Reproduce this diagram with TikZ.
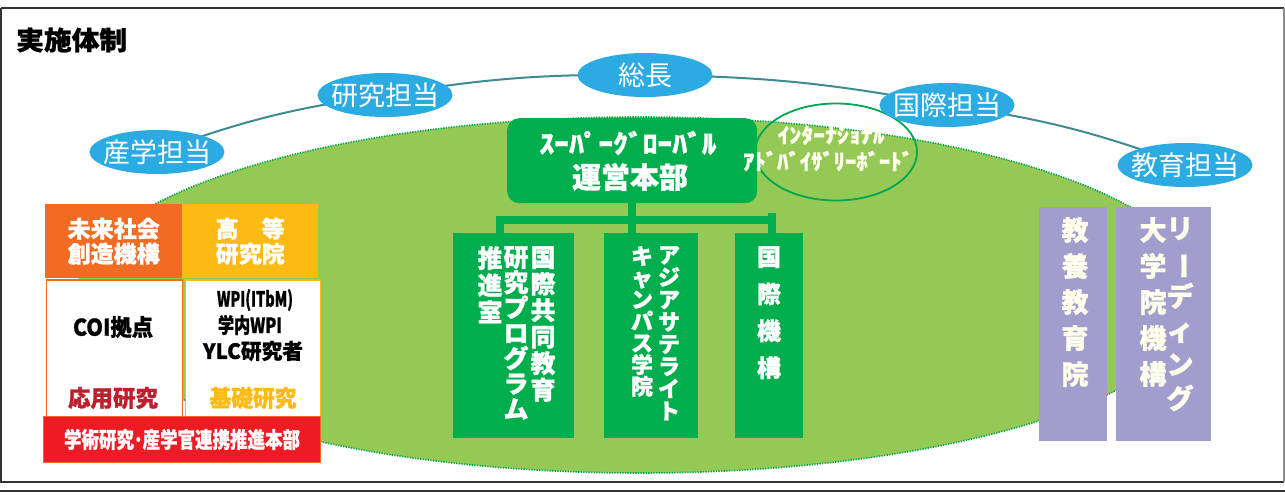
\documentclass[tikz,border=0pt]{standalone}
\usepackage{fontspec}
\setmainfont{Noto Sans CJK JP}[BoldFeatures={FakeBold=1}]
\usepackage{graphicx}
\usetikzlibrary{shapes.geometric}
\definecolor{cSky}{HTML}{2BABE2}
\definecolor{cArc}{HTML}{3D8B93}
\definecolor{cLight}{HTML}{95C955}
\definecolor{cGreen}{HTML}{00AE4D}
\definecolor{cDot}{HTML}{00A651}
\definecolor{cPurple}{HTML}{A19DCC}
\definecolor{cOrange}{HTML}{F26B23}
\definecolor{cYellow}{HTML}{FDBA12}
\definecolor{cRed}{HTML}{ED1C24}
\definecolor{cDarkRed}{HTML}{BE1E2D}
\definecolor{cCream}{HTML}{FFFDEB}
\newcommand\fsz[2]{\fontsize{#1}{#2}\selectfont}
\newcommand\fitw[2]{\resizebox{#1}{\height}{#2}}
\newcommand\vbar{\rotatebox[origin=c]{-90}{ー}}
\begin{document}
\begin{tikzpicture}[x=1pt,y=-1pt,
  blueell/.style={ellipse, fill=cSky, minimum width=135, minimum height=44, inner sep=0, text=white, font=\fsz{27}{30}},
  boxnw/.style={rectangle, inner sep=0, anchor=north west},
  txt/.style={inner sep=0, font=\bfseries},
  vcol/.style={inner sep=0, anchor=north, align=center, text=white, font=\bfseries},
  tree/.style={draw=cGreen, line width=8}
]
\useasboundingbox (0,0) rectangle (1285,495);
\fill[white] (0,0) rectangle (1285,495);
% frame
\draw[draw=black!80, line width=1.6] (1,8) -- (1284,8);
\draw[draw=black!80, line width=1.4] (1,8) -- (1,482) -- (1284,482);
\draw[draw=black!45, line width=1.4] (1284,8) -- (1284,482);
\draw[draw=black!80, line width=2] (0,491) -- (1285,491);
% title
\node[txt, anchor=west] (title) at (16,40) {\fitw{111pt}{\fsz{26}{28}実施体制}};
% big ellipse
\node[ellipse, fill=cLight, draw=cDot, line width=1.6, dash pattern=on 1.3 off 1.3, minimum width=1128, minimum height=356, inner sep=0] (bg) at (640,295) {};
% arc chain
\coordinate (sac) at (157,152);
\coordinate (kec) at (385,95);
\coordinate (soc) at (645,75);
\coordinate (koc) at (947,105);
\coordinate (kyc) at (1185,165);
\draw[cArc, line width=2] (sac) to[bend left=6] (kec) to[bend left=5] (soc) to[bend left=5] (koc) to[bend left=6] (kyc);
% international advisory board ellipse
\node[ellipse, draw=cDot, line width=1.8, minimum width=162, minimum height=97, inner sep=0] (iab) at (836,152) {};
% blue ellipses
\node[blueell] (sa) at (sac) {\makebox[0pt]{産学担当}};
\node[blueell] (ke) at (kec) {\makebox[0pt]{研究担当}};
\node[blueell] (so) at (soc) {\makebox[0pt]{総長}};
\node[blueell] (ko) at (koc) {\makebox[0pt]{国際担当}};
\node[blueell] (ky) at (kyc) {\makebox[0pt]{教育担当}};
% headquarters
\node[boxnw, fill=cGreen, rounded corners=12, minimum width=250, minimum height=85] (hq) at (507,118) {};
\node[txt, text=white] (hq1) at (628,143) {\fitw{177pt}{\fsz{26}{28}ｽｰﾊﾟｰｸﾞﾛｰﾊﾞﾙ}};
\node[txt, text=white] (hq2) at (630,177) {\fitw{116pt}{\fsz{29}{30}運営本部}};
% international advisory board text
\node[txt, text=cCream] (iab1) at (831,135) {\fitw{107pt}{\fsz{21}{22}ｲﾝﾀｰﾅｼｮﾅﾙ}};
\node[txt, text=cCream] (iab2) at (828,161) {\fitw{170pt}{\fsz{22}{24}ｱﾄﾞﾊﾞｲｻﾞﾘｰﾎﾞｰﾄﾞ}};
% three green boxes
\node[boxnw, fill=cGreen, minimum width=121, minimum height=205] (b1) at (453,233) {};
\node[boxnw, fill=cGreen, minimum width=94, minimum height=205] (b2) at (604,233) {};
\node[boxnw, fill=cGreen, minimum width=68, minimum height=205] (b3) at (735,233) {};
\coordinate (jl) at (500,220);
\coordinate (jr) at (772,213);
\draw[tree] (jl |- b1.north) -- (jl) -- (jl -| jr);
\draw[tree] (jr) -- (jr |- b3.north);
\draw[tree] (hq.south) -- (hq.south |- b2.north);
% box 1 text
\node[vcol, font=\bfseries\fsz{25}{26.5}] (b1c1) at (543,246) {国\\際\\共\\同\\教\\育};
\node[vcol, font=\bfseries\fsz{25}{25.3}] (b1c2) at (516,246) {研\\究\\プ\\ロ\\グ\\ラ\\ム};
\node[vcol, font=\bfseries\fsz{25}{27}] (b1c3) at (490,246) {推\\進\\室};
% box 2 text
\node[vcol, font=\bfseries\fsz{22}{22.3}] (b2c1) at (669,246) {ア\\ジ\\ア\\サ\\テ\\ラ\\イ\\ト};
\node[vcol, font=\bfseries\fsz{22}{21.7}] (b2c2) at (642,246) {キ\\ャ\\ン\\パ\\ス\\学\\院};
% box 3 text
\node[vcol, font=\bfseries\fsz{24}{37}] (b3c1) at (769,246) {国\\際\\機\\構};
% purple boxes
\node[boxnw, fill=cPurple, minimum width=68, minimum height=234] (p1) at (1039,207) {};
\node[boxnw, fill=cPurple, minimum width=95, minimum height=234] (p2) at (1116,207) {};
\node[vcol, text=cCream, font=\bfseries\fsz{27}{36}] (p1c1) at (1075,217) {教\\養\\教\\育\\院};
\node[vcol, text=cCream, font=\bfseries\fsz{27}{34}] (p2c1) at (1180,217) {リ\\\vbar\\デ\\ィ\\ン\\グ};
\node[vcol, text=cCream, font=\bfseries\fsz{27}{36}] (p2c2) at (1153,217) {大\\学\\院\\機\\構};
% left block
\node[boxnw, fill=cOrange, minimum width=137, minimum height=74] (ob) at (45,204) {};
\node[txt, text=white, align=center, font=\bfseries\fsz{23}{25}] (obt) at (ob.center) {未来社会\\創造機構};
\node[boxnw, fill=cYellow, minimum width=136, minimum height=74] (yb) at (182,204) {};
\node[txt, text=white, align=center, font=\bfseries\fsz{23}{25}] (ybt) at (yb.center) {高　等\\研究院};
\node[boxnw, fill=white, draw=cOrange, line width=1.5, minimum width=136, minimum height=137] (wb1) at (45.5,279) {};
\node[boxnw, fill=white, draw=cYellow, line width=1.5, minimum width=135, minimum height=137] (wb2) at (184.5,279) {};
\node[txt] (coi) at (113,327) {\fitw{80pt}{\fsz{23}{24}COI拠点}};
\node[txt, text=cDarkRed] (oyo) at (113,398) {\fitw{90pt}{\fsz{23}{24}応用研究}};
\node[txt] (wpi1) at (255,300) {\fitw{76pt}{\fsz{21}{22}WPI(ITbM)}};
\node[txt] (wpi2) at (250,325) {\fitw{64pt}{\fsz{21}{22}学内WPI}};
\node[txt] (ylc) at (253,351) {\fitw{100pt}{\fsz{21}{22}YLC研究者}};
\node[txt, text=cYellow] (kiso) at (253,398) {\fitw{87pt}{\fsz{23}{24}基礎研究}};
\node[boxnw, fill=cRed, draw=cOrange, line width=1, minimum width=277, minimum height=46] (rb) at (43,416) {};
\node[txt, text=white] (rbt) at (rb.center) {\fitw{236pt}{\fsz{22}{24}学術研究･産学官連携推進本部}};
\end{tikzpicture}
\end{document}
